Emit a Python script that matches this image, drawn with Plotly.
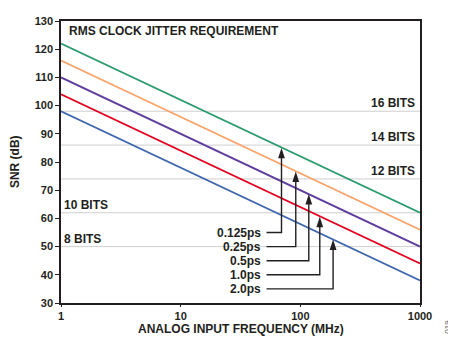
import numpy as np
import plotly.graph_objects as go

# ---- data ----
freq_mhz = [1, 10, 100, 1000]
snr_0125ps = [122, 102, 82, 62]
snr_025ps = [116, 96, 76, 56]
snr_05ps = [110, 90, 70, 50]
snr_1ps = [104, 84, 64, 44]
snr_2ps = [98, 78, 58, 38]

series_names = ["0.125ps", "0.25ps", "0.5ps", "1.0ps", "2.0ps"]
series_colors = ["#2a9b6c", "#f9a46c", "#5e3c9e", "#e2001f", "#3d66ad"]

bit_levels = [98, 86, 74, 62, 50]
bit_labels = ["16 BITS", "14 BITS", "12 BITS", "10 BITS", "8 BITS"]
bit_side = ["right", "right", "right", "left", "left"]

label_y = [55, 50, 45, 40, 35]
arrow_freq = [69.6, 91.6, 117.7, 145.4, 187.8]
arrow_tip = [85, 76.6, 68.6, 60.6, 52.5]
label_end_freq = 48.5
line_start_freq = 52.2

x_ticks = [1, 10, 100, 1000]
y_ticks = [30, 40, 50, 60, 70, 80, 90, 100, 110, 120, 130]

FONT = "Liberation Sans, Arial, sans-serif"
TXT = "#231f20"

fig = go.Figure()

all_series = [snr_0125ps, snr_025ps, snr_05ps, snr_1ps, snr_2ps]
for name, vals, col in zip(series_names, all_series, series_colors):
    fig.add_trace(go.Scatter(x=freq_mhz, y=vals, mode="lines", name=name,
                             line=dict(color=col, width=1.8), hoverinfo="skip"))

# elbow leader lines
for ly, af, tip in zip(label_y, arrow_freq, arrow_tip):
    fig.add_trace(go.Scatter(x=[line_start_freq, af, af], y=[ly, ly, tip - 1.2],
                             mode="lines", line=dict(color=TXT, width=1.4),
                             hoverinfo="skip"))
# arrowheads
fig.add_trace(go.Scatter(x=arrow_freq, y=arrow_tip, mode="markers",
                         marker=dict(symbol="arrow", size=11, angle=0, color=TXT,
                                     line=dict(width=0)),
                         hoverinfo="skip"))

annotations = []
for ly, name in zip(label_y, series_names):
    annotations.append(dict(x=np.log10(label_end_freq), y=ly, xref="x", yref="y",
                            text=name, showarrow=False, xanchor="right", yanchor="middle",
                            font=dict(family=FONT, size=12, color=TXT, weight="bold")))

shapes = []
for lvl, lab, side in zip(bit_levels, bit_labels, bit_side):
    shapes.append(dict(type="line", xref="paper", yref="y", x0=0, x1=1, y0=lvl, y1=lvl,
                       line=dict(color="#cfcfcf", width=1), layer="below"))
    annotations.append(dict(x=0.992 if side == "right" else 0.002, y=lvl, xref="paper", yref="y",
                            text=lab, showarrow=False,
                            xanchor="right" if side == "right" else "left",
                            yanchor="bottom", yshift=-1,
                            font=dict(family=FONT, size=12, color=TXT, weight="bold")))

annotations.append(dict(x=0.018, y=0.965, xref="paper", yref="paper",
                        text="RMS CLOCK JITTER REQUIREMENT", showarrow=False,
                        xanchor="left", yanchor="middle",
                        font=dict(family=FONT, size=12, color=TXT, weight="bold")))
annotations.append(dict(x=0.5, y=-0.093, xref="paper", yref="paper",
                        text="ANALOG INPUT FREQUENCY (MHz)", showarrow=False,
                        xanchor="center", yanchor="middle", borderpad=0,
                        font=dict(family=FONT, size=12, color=TXT, weight="bold")))
annotations.append(dict(x=-0.128, y=0.5, xref="paper", yref="paper",
                        text="SNR (dB)", showarrow=False, textangle=-90,
                        xanchor="center", yanchor="middle",
                        font=dict(family=FONT, size=12, color=TXT, weight="bold")))
annotations.append(dict(x=1.076, y=-0.083, xref="paper", yref="paper",
                        text="019", showarrow=False, textangle=-90,
                        xanchor="center", yanchor="middle", borderpad=0,
                        font=dict(family=FONT, size=8, color="#555555")))

# the page body adds an 8px offset, so the figure is sized to fit the 456x337 window
fig.update_layout(
    width=448, height=329,
    margin=dict(l=53, r=36, t=7, b=34),
    paper_bgcolor="white", plot_bgcolor="white",
    showlegend=False,
    shapes=shapes, annotations=annotations,
    xaxis=dict(type="log", range=[0, 3], tickvals=x_ticks, ticktext=[str(v) for v in x_ticks],
               showgrid=False, zeroline=False, showline=True, linecolor=TXT, linewidth=1.5,
               mirror=True, ticks="outside", ticklen=2, tickcolor=TXT,
               tickfont=dict(family=FONT, size=11, color=TXT, weight="bold")),
    yaxis=dict(range=[30, 130], tickvals=y_ticks, showgrid=False, zeroline=False,
               showline=True, linecolor=TXT, linewidth=1.5, mirror=True,
               ticks="outside", ticklen=4, tickcolor=TXT,
               tickfont=dict(family=FONT, size=11, color=TXT, weight="bold")),
)

fig.write_html("out.html")
